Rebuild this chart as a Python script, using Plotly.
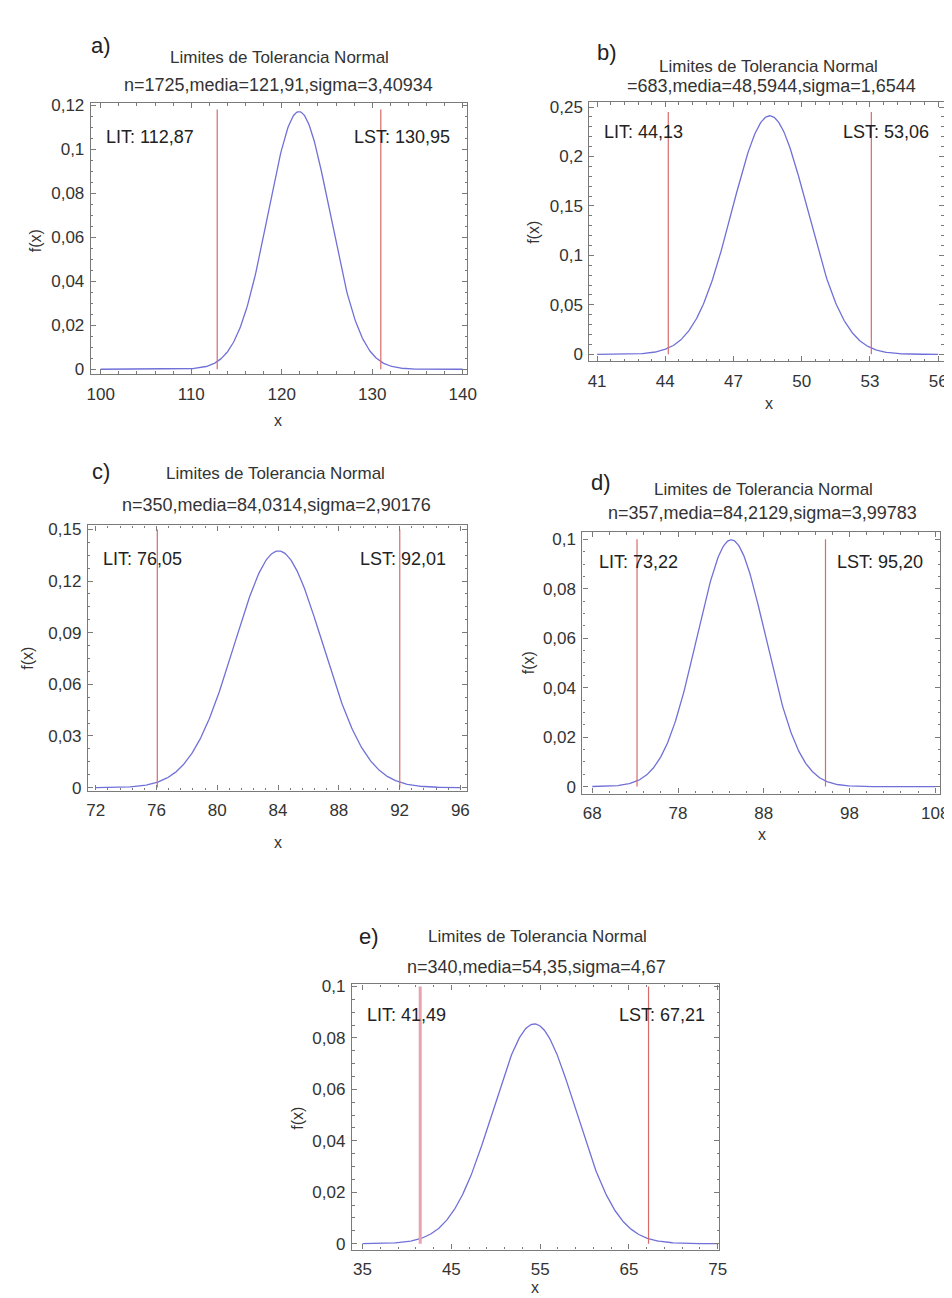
import numpy as np
import plotly.graph_objects as go

# ---------------- data ----------------
panel_letters = ["a)", "b)", "c)", "d)", "e)"]
subtitle_texts = [
    "n=1725,media=121,91,sigma=3,40934",
    "=683,media=48,5944,sigma=1,6544",
    "n=350,media=84,0314,sigma=2,90176",
    "n=357,media=84,2129,sigma=3,99783",
    "n=340,media=54,35,sigma=4,67",
]
means = [121.91, 48.5944, 84.0314, 84.2129, 54.35]
sigmas = [3.40934, 1.6544, 2.90176, 3.99783, 4.67]
lit_values = [112.87, 44.13, 76.05, 73.22, 41.49]
lst_values = [130.95, 53.06, 92.01, 95.20, 67.21]
lit_labels = ["LIT: 112,87", "LIT: 44,13", "LIT: 76,05", "LIT: 73,22", "LIT: 41,49"]
lst_labels = ["LST: 130,95", "LST: 53,06", "LST: 92,01", "LST: 95,20", "LST: 67,21"]
limit_line_tops = [0.118, 0.245, 0.15, 0.1, 0.1]
curve_x_min = [100, 41, 72, 68, 35]
curve_x_max = [140, 56, 96, 108, 75]

x_tickvals = [
    [100, 110, 120, 130, 140],
    [41, 44, 47, 50, 53, 56],
    [72, 76, 80, 84, 88, 92, 96],
    [68, 78, 88, 98, 108],
    [35, 45, 55, 65, 75],
]
y_tickvals = [
    [0, 0.02, 0.04, 0.06, 0.08, 0.1, 0.12],
    [0, 0.05, 0.1, 0.15, 0.2, 0.25],
    [0, 0.03, 0.06, 0.09, 0.12, 0.15],
    [0, 0.02, 0.04, 0.06, 0.08, 0.1],
    [0, 0.02, 0.04, 0.06, 0.08, 0.1],
]
y_ticktext = [
    ["0", "0,02", "0,04", "0,06", "0,08", "0,1", "0,12"],
    ["0", "0,05", "0,1", "0,15", "0,2", "0,25"],
    ["0", "0,03", "0,06", "0,09", "0,12", "0,15"],
    ["0", "0,02", "0,04", "0,06", "0,08", "0,1"],
    ["0", "0,02", "0,04", "0,06", "0,08", "0,1"],
]
x_ranges = [[98.9, 140.5], [40.66, 56.26], [71.48, 96.45], [66.86, 108.57], [33.8, 75.2]]
y_ranges = [[-0.0022, 0.1209], [-0.007, 0.255], [-0.0017, 0.1523], [-0.0028, 0.1028], [-0.0023, 0.1008]]
x_minor = [2, 0.6, 0.8, 2, 2]
y_minor = [0.005, 0.01, 0.0075, 0.005, 0.005]

# ---------------- layout (pixels) ----------------
W, H = 952, 1298
plot_boxes = [  # left, right, top, bottom
    (80, 462, 89, 363),
    (586, 946, 88, 350),
    (77, 462, 516, 784),
    (579, 942, 523, 787),
    (345, 718, 980, 1248),
]
letter_pos = [(90, 31), (604, 38), (90, 461), (598, 473), (362, 932)]
title1_pos = [(271, 43), (768, 52), (267, 463), (763, 480), (533, 932)]
title2_pos = [(270, 71), (771, 72), (268, 495), (762, 503), (532, 962)]
xlabel_pos = [(270, 410), (768, 393), (270, 837), (761, 828), (531, 1286)]
ylabel_pos = [(24, 228), (529, 220), (16, 650), (525, 655), (290, 1115)]
lit_frac = [(0.034, 0.876), (0.036, 0.885), (0.034, 0.874), (0.04, 0.886), (0.035, 0.883)]
lst_frac = [(0.96, 0.876), (0.964, 0.885), (0.95, 0.874), (0.959, 0.886), (0.965, 0.883)]
lit_widths = [1.2, 1.2, 1.2, 1.2, 3]
lit_colors = ["#d96a6a", "#d96a6a", "#d96a6a", "#d96a6a", "#e8a3ae"]

FONT = "Arial, Liberation Sans, sans-serif"
CURVE = "#7070d8"
FRAME = "#7a7a7a"
TXT = "#333333"

fig = go.Figure()
annotations = []

def px(x):
    return x / W

def py(y):
    return 1 - y / H

for i in range(5):
    k = "" if i == 0 else str(i + 1)
    xa, ya = "x" + k, "y" + k
    xs = np.linspace(curve_x_min[i], curve_x_max[i], 400)
    ys = np.exp(-0.5 * ((xs - means[i]) / sigmas[i]) ** 2) / (sigmas[i] * np.sqrt(2 * np.pi))
    fig.add_trace(go.Scatter(x=xs, y=ys, mode="lines", xaxis=xa, yaxis=ya,
                             line=dict(color=CURVE, width=1.3), showlegend=False, hoverinfo="skip"))
    fig.add_trace(go.Scatter(x=[lit_values[i], lit_values[i]], y=[0, limit_line_tops[i]], mode="lines",
                             xaxis=xa, yaxis=ya, line=dict(color=lit_colors[i], width=lit_widths[i]),
                             showlegend=False, hoverinfo="skip"))
    fig.add_trace(go.Scatter(x=[lst_values[i], lst_values[i]], y=[0, limit_line_tops[i]], mode="lines",
                             xaxis=xa, yaxis=ya, line=dict(color="#d96a6a", width=1.2),
                             showlegend=False, hoverinfo="skip"))

    l, r, t, b = plot_boxes[i]
    axis_common = dict(showgrid=False, zeroline=False, showline=True, linecolor=FRAME, linewidth=1.2,
                       mirror="allticks", ticks="inside", ticklen=5, tickwidth=1, tickcolor=FRAME,
                       tickfont=dict(family=FONT, size=17, color=TXT))
    fig.update_layout(**{
        ("xaxis" + k): dict(axis_common, domain=[px(l), px(r)], anchor=ya, range=x_ranges[i],
                            tickmode="array", tickvals=x_tickvals[i], ticklabelstandoff=4,
                            ticktext=[str(v) for v in x_tickvals[i]],
                            minor=dict(ticks="inside", ticklen=2.5, tickcolor=FRAME, dtick=x_minor[i],
                                       tick0=x_tickvals[i][0], showgrid=False)),
        ("yaxis" + k): dict(axis_common, domain=[py(b), py(t)], anchor=xa, range=y_ranges[i],
                            tickmode="array", tickvals=y_tickvals[i], ticktext=y_ticktext[i],
                            ticklabelstandoff=2,
                            minor=dict(ticks="inside", ticklen=2.5, tickcolor=FRAME, dtick=y_minor[i],
                                       tick0=0, showgrid=False)),
    })

    annotations.append(dict(text=panel_letters[i], x=px(letter_pos[i][0]), y=py(letter_pos[i][1]),
                            xref="paper", yref="paper", showarrow=False, xanchor="center", yanchor="middle",
                            font=dict(family=FONT, size=22, color="#222")))
    annotations.append(dict(text="Limites de Tolerancia Normal", x=px(title1_pos[i][0]), y=py(title1_pos[i][1]),
                            xref="paper", yref="paper", showarrow=False, xanchor="center", yanchor="middle",
                            font=dict(family=FONT, size=17, color=TXT)))
    annotations.append(dict(text=subtitle_texts[i], x=px(title2_pos[i][0]), y=py(title2_pos[i][1]),
                            xref="paper", yref="paper", showarrow=False, xanchor="center", yanchor="middle",
                            font=dict(family=FONT, size=18, color=TXT)))
    annotations.append(dict(text="x", x=px(xlabel_pos[i][0]), y=py(xlabel_pos[i][1]),
                            xref="paper", yref="paper", showarrow=False, xanchor="center", yanchor="middle",
                            font=dict(family=FONT, size=16, color=TXT)))
    annotations.append(dict(text="f(x)", x=px(ylabel_pos[i][0]), y=py(ylabel_pos[i][1]), textangle=-90,
                            xref="paper", yref="paper", showarrow=False, xanchor="center", yanchor="middle",
                            font=dict(family=FONT, size=16, color=TXT)))
    annotations.append(dict(text=lit_labels[i], x=lit_frac[i][0], y=lit_frac[i][1],
                            xref=xa + " domain", yref=ya + " domain", showarrow=False,
                            xanchor="left", yanchor="middle", font=dict(family=FONT, size=18, color="#222")))
    annotations.append(dict(text=lst_labels[i], x=lst_frac[i][0], y=lst_frac[i][1],
                            xref=xa + " domain", yref=ya + " domain", showarrow=False,
                            xanchor="right", yanchor="middle", font=dict(family=FONT, size=18, color="#222")))

fig.update_layout(width=W, height=H, margin=dict(l=0, r=0, t=0, b=0),
                  paper_bgcolor="white", plot_bgcolor="white", annotations=annotations,
                  showlegend=False)

fig.write_html("out.html")
